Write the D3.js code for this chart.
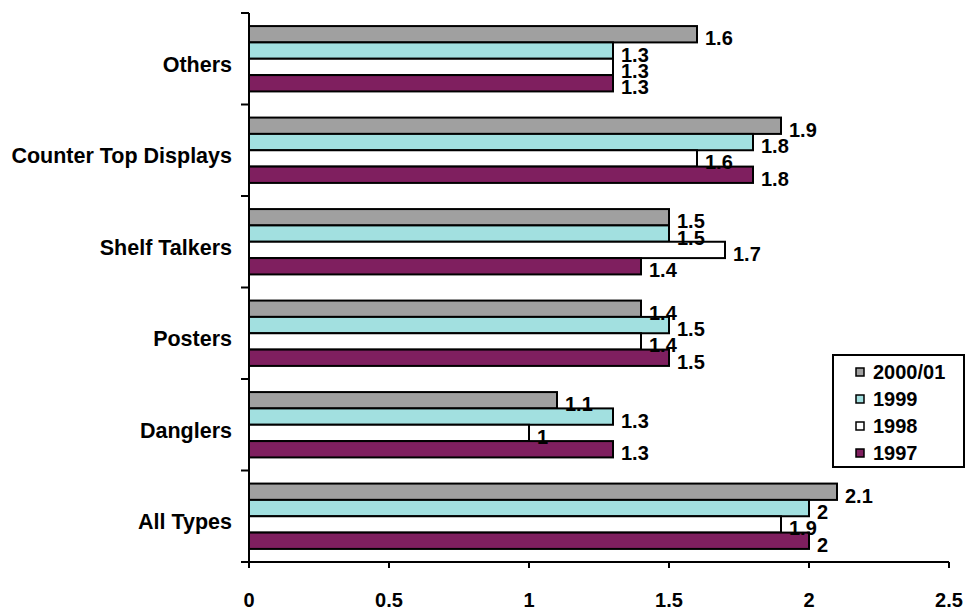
<!doctype html>
<html>
  <head>
    <script src="https://cdnjs.cloudflare.com/ajax/libs/d3/7.8.5/d3.min.js"></script>
    <style>
      body { margin: 0; background: #fff; }
      text { font-family: "Liberation Sans", Arial, sans-serif; font-weight: bold; fill: #000; }
    </style>
  </head>
  <body>
    <svg id="chart" width="967" height="612"></svg>

    <script>
        // categories listed top to bottom
        var categories = ["Others", "Counter Top Displays", "Shelf Talkers", "Posters", "Danglers", "All Types"];
        var seriesNames = ["2000/01", "1999", "1998", "1997"];
        var colors = ["#a0a0a0", "#a2e0e0", "#ffffff", "#7f1f5f"];

        var v2000 = [1.6, 1.9, 1.5, 1.4, 1.1, 2.1];
        var v1999 = [1.3, 1.8, 1.5, 1.5, 1.3, 2.0];
        var v1998 = [1.3, 1.6, 1.7, 1.4, 1.0, 1.9];
        var v1997 = [1.3, 1.8, 1.4, 1.5, 1.3, 2.0];

        var xTicks = [0, 0.5, 1, 1.5, 2, 2.5];

        var values = [v2000, v1999, v1998, v1997];
        var rows = [];
        categories.forEach((c, i) => {
            seriesNames.forEach((s, j) => {
                rows.push({cat: c, series: s, value: values[j][i], color: colors[j]});
            });
        });

        var svg = d3.select("#chart");

        var x = d3.scaleLinear().domain([0, 2.5]).range([249, 949]);
        var y = d3.scaleBand().domain(categories).range([13, 562]);
        var ySub = d3.scaleBand().domain(seriesNames).range([0, y.bandwidth()]).paddingOuter(0.8);

        // bars
        svg.append("g")
            .selectAll("rect")
            .data(rows)
            .enter()
            .append("rect")
            .attr("x", x(0))
            .attr("y", d => y(d.cat) + ySub(d.series))
            .attr("width", d => x(d.value) - x(0))
            .attr("height", ySub.bandwidth())
            .attr("fill", d => d.color)
            .attr("stroke", "#000")
            .attr("stroke-width", 2);

        // value labels
        svg.append("g")
            .selectAll("text")
            .data(rows)
            .enter()
            .append("text")
            .attr("x", d => x(d.value) + 8)
            .attr("y", d => y(d.cat) + ySub(d.series) + ySub.bandwidth() / 2 + 11)
            .style("font-size", "20px")
            .text(d => d.value);

        // y axis
        var yAxis = svg.append("g");
        yAxis.append("line")
            .attr("x1", x(0)).attr("x2", x(0))
            .attr("y1", 13).attr("y2", 562)
            .attr("stroke", "#000").attr("stroke-width", 2);
        yAxis.selectAll(".ytick")
            .data(categories.concat([null]))
            .enter()
            .append("line")
            .attr("x1", x(0) - 8).attr("x2", x(0))
            .attr("y1", (d, i) => i < categories.length ? y(d) : y.range()[1])
            .attr("y2", (d, i) => i < categories.length ? y(d) : y.range()[1])
            .attr("stroke", "#000").attr("stroke-width", 2);
        yAxis.selectAll(".ylab")
            .data(categories)
            .enter()
            .append("text")
            .attr("x", 232)
            .attr("y", d => y(d) + y.bandwidth() / 2 + 13)
            .attr("text-anchor", "end")
            .style("font-size", "21.5px")
            .text(d => d);

        // x axis
        var xAxis = svg.append("g");
        xAxis.append("line")
            .attr("x1", x(0) - 8).attr("x2", x(2.5))
            .attr("y1", 562).attr("y2", 562)
            .attr("stroke", "#000").attr("stroke-width", 2);
        xAxis.selectAll(".xtick")
            .data(xTicks)
            .enter()
            .append("line")
            .attr("x1", d => x(d)).attr("x2", d => x(d))
            .attr("y1", 562).attr("y2", 568)
            .attr("stroke", "#000").attr("stroke-width", 2);
        xAxis.selectAll(".xlab")
            .data(xTicks)
            .enter()
            .append("text")
            .attr("x", d => x(d))
            .attr("y", 607)
            .attr("text-anchor", "middle")
            .style("font-size", "20px")
            .text(d => d);

        // legend
        var legend = svg.append("g").attr("transform", "translate(833,355)");
        legend.append("rect")
            .attr("width", 131).attr("height", 112)
            .attr("fill", "#fff").attr("stroke", "#000").attr("stroke-width", 2);
        var item = legend.selectAll(".item")
            .data(seriesNames)
            .enter()
            .append("g")
            .attr("transform", (d, i) => "translate(0," + (13 + i * 27) + ")");
        item.append("rect")
            .attr("x", 23).attr("width", 8).attr("height", 8)
            .attr("fill", (d, i) => colors[i])
            .attr("stroke", "#000").attr("stroke-width", 1.5);
        item.append("text")
            .attr("x", 40).attr("y", 11)
            .style("font-size", "20px")
            .text(d => d);
    </script>
  </body>
</html>
